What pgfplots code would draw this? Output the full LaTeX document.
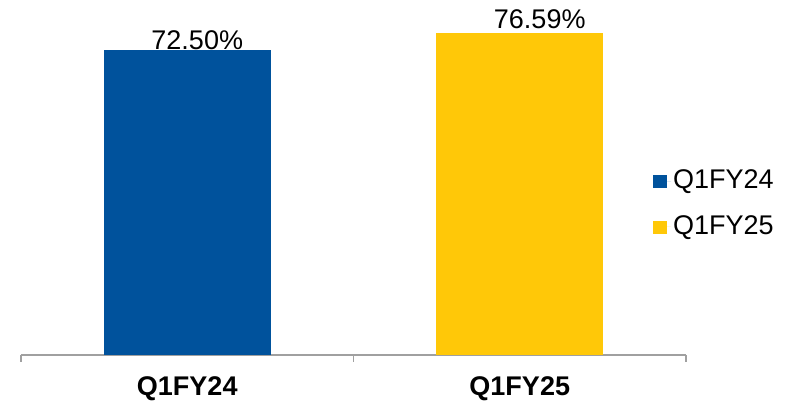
\documentclass[border=0pt]{standalone}
\usepackage{pgfplots}
\pgfplotsset{compat=1.18}
\usepackage{fontspec}
\setmainfont{Liberation Sans}
\definecolor{qblue}{HTML}{00529C}
\definecolor{qyellow}{HTML}{FFC808}
\definecolor{axgray}{HTML}{A0A0A0}
\begin{document}
\fontsize{27}{32}\selectfont
\begin{tikzpicture}
\useasboundingbox (-21pt,-49pt) rectangle (777pt,355pt);
\begin{axis}[
  at={(0,0)}, anchor=south west,
  scale only axis,
  width=665pt, height=355pt,
  xmin=-0.5, xmax=1.5,
  ymin=0, ymax=84.4,
  clip=false,
  /pgf/number format/assume math mode=true,
  axis y line=none,
  axis x line*=bottom,
  x axis line style={axgray, line width=1.2pt, -},
  xtick={0,1},
  xticklabels={\textbf{Q1FY24},\textbf{Q1FY25}},
  major tick length=0pt,
  minor xtick={-0.5,0.5,1.5},
  minor tick length=7pt,
  tick align=outside,
  minor tick style={axgray, line width=1.2pt},
  xticklabel style={font=\fontsize{27}{32}\selectfont, yshift=-12pt},
  ybar, bar width=167pt, bar shift=0pt,
  nodes near coords={\pgfmathprintnumber[fixed,fixed zerofill,precision=2]{\pgfplotspointmeta}\%},
  every node near coord/.append style={font=\fontsize{27}{32}\selectfont, anchor=base, inner sep=0pt},
  legend style={draw=none, at={(632pt,151pt)}, anchor=west,
    font=\fontsize{27}{32}\selectfont, row sep=19pt, inner sep=0pt,
    cells={anchor=west}},
  legend image code/.code={\fill[#1] (0pt,-7pt) rectangle (14pt,6pt);
    \path (0pt,0pt) -- (18pt,0pt);},
]
\addplot[fill=qblue, draw=none, every node near coord/.append style={xshift=10pt, yshift=1pt}]
  coordinates {(0,72.50)};
\addplot[fill=qyellow, draw=none, every node near coord/.append style={xshift=20pt, yshift=4pt}]
  coordinates {(1,76.59)};
\legend{Q1FY24,Q1FY25}
\end{axis}
\end{tikzpicture}
\end{document}
